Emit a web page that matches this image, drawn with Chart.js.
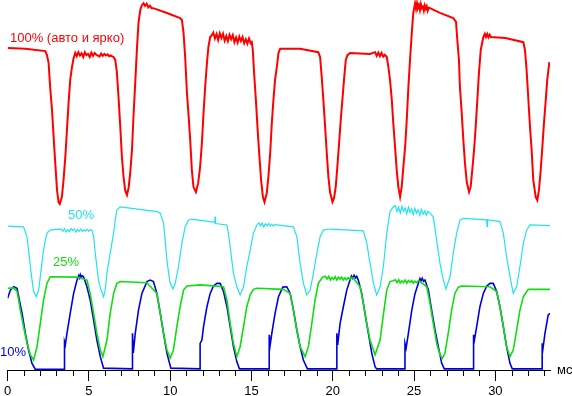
<!DOCTYPE html>
<html lang="ru">
<head>
    <meta charset="UTF-8">
    <title>Осциллограммы яркости</title>
    <script src="https://cdn.jsdelivr.net/npm/chart.js"></script>
    <style>
        body {
            margin: 0;
            background: #fff;
        }
    </style>
</head>
<body>
    <canvas id="scope" width="572" height="396"></canvas>

    <script>
        // время в мс, уровень в условных единицах (0..100)
        const redT = [0, 1.09, 2.32, 2.42, 2.52, 2.62, 2.73, 2.83, 2.93, 3.04, 3.13, 3.21, 3.34, 3.44, 3.55, 3.65, 3.75, 3.85, 3.96, 4.06,
            4.16, 4.25, 4.35, 4.45, 4.55, 4.65, 4.75, 4.85, 4.95, 5.05, 5.15, 5.25, 5.35, 5.45, 5.55, 5.65, 5.75, 5.85, 5.95, 6.05, 6.15, 6.25, 6.35, 6.45, 6.52,
            6.62, 6.72, 6.82, 6.93, 7.03, 7.13, 7.23, 7.34, 7.44, 7.54, 7.65, 7.74, 7.85, 7.95, 8.05, 8.16, 8.26, 8.36,
            8.45, 8.55, 8.65, 8.75, 8.85, 8.96, 9.80, 10.61, 10.72, 10.82, 10.92, 11.03, 11.12, 11.23, 11.33, 11.43, 11.58, 11.72, 11.84, 11.95, 12.05, 12.15, 12.26, 12.35, 12.46,
            12.56, 12.65, 12.75, 12.85, 12.95, 13.05, 13.15, 13.25, 13.35, 13.45, 13.55, 13.65, 13.75, 13.85, 13.95, 14.05, 14.15, 14.25, 14.35, 14.45, 14.55, 14.65, 14.75, 14.85, 14.95, 15.02,
            15.08, 15.16, 15.27, 15.39, 15.49, 15.59, 15.70, 15.80, 15.94, 16.04, 16.15, 16.25, 16.35, 16.45, 16.56, 16.66, 16.76,
            17.99, 19.11, 19.22, 19.32, 19.42, 19.53, 19.63, 19.73, 19.83, 19.98, 20.08, 20.18, 20.28, 20.39, 20.49, 20.59, 20.69, 20.80, 20.90, 21.06,
            22.29, 22.60, 22.70, 22.80, 22.90, 23.00, 23.10, 23.20,
            23.32, 23.42, 23.52, 23.63, 23.72, 23.83, 23.93, 24.03, 24.14, 24.24, 24.34, 24.45, 24.55, 24.65, 24.75, 24.86, 24.95,
            25.06, 25.12, 25.18, 25.24, 25.30, 25.36, 25.42, 25.48, 25.54, 25.60, 25.66, 25.72, 25.78, 25.84, 25.90, 25.98,
            26.59, 27.41, 27.58, 27.66, 27.76, 27.82, 27.93, 28.03, 28.13, 28.24, 28.38, 28.48, 28.58, 28.69, 28.79, 28.89, 28.99, 29.10, 29.26,
            29.35, 29.42, 29.50, 29.57, 29.65, 29.72,
            30.61, 31.72, 31.82, 31.92, 32.02, 32.13, 32.23, 32.33, 32.48, 32.58, 32.68, 32.79, 32.89, 32.99, 33.10, 33.19, 33.32];
        const redV = [87.0, 86.8, 86.2, 85.1, 83.0, 76.2, 70.3, 63.0, 55.9, 48.6, 45.4, 44.9, 46.8, 51.4, 57.6, 64.9, 72.2, 78.4, 81.9, 84.3,
            85.7, 84.8, 85.9, 85.0, 85.6, 84.6, 85.9, 85.1, 85.4, 84.6, 85.8, 84.9, 85.7, 85.2, 85.0, 84.7, 85.5, 84.9, 85.4, 85.0, 85.3, 84.8, 85.0, 84.7, 84.6,
            83.8, 80.5, 73.8, 65.7, 57.6, 52.2, 48.6, 47.3, 49.2, 53.2, 59.5, 68.4, 77.6, 86.5, 93.8, 97.3, 98.6, 99.1,
            98.4, 99.0, 98.0, 98.5, 97.8, 97.8, 96.5, 95.1, 94.6, 91.1, 84.6, 74.9, 69.5, 62.2, 54.1, 49.5, 48.1, 50.5, 54.9, 61.4, 69.5, 76.5, 83.0, 87.3, 90.0,
            90.5, 91.2, 89.6, 90.8, 89.2, 91.0, 89.7, 90.9, 89.0, 90.3, 88.9, 90.6, 89.4, 90.5, 88.6, 89.9, 88.5, 90.1, 88.9, 90.0, 88.3, 89.4, 88.2, 89.6, 88.3, 88.6,
            86.5, 80.3, 73.0, 64.1, 57.6, 51.4, 46.8, 45.4, 47.8, 52.2, 58.6, 66.8, 73.0, 78.4, 81.9, 85.7, 86.8,
            86.8, 85.9, 84.6, 79.2, 73.0, 65.7, 58.6, 52.2, 48.1, 45.4, 46.5, 49.5, 54.9, 61.4, 67.6, 73.0, 78.4, 83.8, 85.1, 85.7,
            85.4, 85.9, 84.9, 85.8, 84.8, 85.7, 84.7, 85.2,
            84.6, 81.9, 78.4, 73.0, 66.8, 60.3, 54.1, 49.5, 46.8, 49.5, 54.9, 60.3, 67.6, 76.5, 83.8, 91.1, 96.5,
            99.1, 97.6, 99.2, 97.9, 98.6, 97.3, 98.9, 97.8, 98.2, 97.1, 98.5, 97.6, 98.3, 97.1, 97.9, 97.8,
            96.5, 95.1, 94.1, 89.2, 83.8, 76.5, 69.5, 62.2, 55.9, 50.8, 48.1, 49.5, 54.1, 59.5, 65.7, 73.0, 80.3, 86.5, 90.0,
            90.9, 90.0, 90.8, 89.9, 90.6, 90.0,
            89.7, 88.6, 86.5, 81.1, 73.8, 65.7, 59.5, 51.4, 46.8, 45.9, 48.6, 54.1, 60.3, 66.8, 73.0, 78.4, 83.2];

        const cyanT = [0, 0.98, 1.19, 1.29, 1.40, 1.50, 1.60, 1.76, 1.91, 2.01, 2.11, 2.21, 2.32, 2.42, 2.62,
            3.0, 3.3, 3.4, 3.5, 3.6, 3.7, 3.8, 3.9, 4.0, 4.1, 4.2, 4.3, 4.4, 4.5, 4.6, 4.7, 4.8, 4.9, 5.0, 5.1, 5.19,
            5.29, 5.39, 5.49, 5.59, 5.70, 5.90, 6.00, 6.11, 6.31, 6.52, 6.62, 6.72, 6.93, 9.18, 9.39,
            9.59, 9.69, 9.80, 9.90, 10.00, 10.17, 10.31, 10.51, 10.72, 10.92, 11.12, 11.33, 12.74, 12.76, 12.79, 13.49,
            13.58, 13.69, 13.79, 13.89, 14.10, 14.30, 14.51, 14.71, 14.92, 15.12,
            15.33, 15.45, 15.55, 15.65, 15.75, 15.85, 15.95, 16.05, 16.15, 16.25, 16.35, 16.45, 16.56, 17.58,
            17.79, 17.89, 17.99, 18.19, 18.40, 18.61, 18.81, 19.02, 19.22, 19.42, 19.83, 21.88,
            22.09, 22.29, 22.50, 22.70, 22.91, 23.11, 23.32, 23.52,
            23.72, 23.85, 23.95, 24.05, 24.15, 24.25, 24.35, 24.45, 24.55, 24.65, 24.75, 24.85, 24.95, 25.05, 25.15, 25.25, 25.35, 25.45, 25.55, 25.65, 25.75, 25.85, 25.98, 26.18,
            26.39, 26.59, 26.80, 26.96, 27.21, 27.41, 27.62, 27.82, 28.03, 29.46, 29.49, 29.52, 30.28,
            30.49, 30.69, 30.90, 31.10, 31.31, 31.51, 31.72, 31.92, 32.13, 33.36];
        const cyanV = [38.9, 38.7, 36.0, 32.4, 27.9, 24.3, 21.2, 19.8, 21.6, 25.2, 28.9, 32.4, 35.1, 37.0, 37.8,
            38.0, 38.1, 37.5, 38.2, 37.3, 37.9, 37.4, 38.2, 37.7, 38.1, 37.3, 38.0, 37.5, 38.1, 37.4, 37.9, 37.6, 38.0, 37.5, 37.9, 37.8,
            36.0, 31.6, 27.9, 24.3, 22.2, 19.8, 21.6, 26.2, 31.6, 37.0, 40.5, 43.2, 44.1, 42.8, 42.4,
            39.7, 35.1, 29.7, 26.2, 23.5, 21.9, 23.5, 27.9, 34.3, 38.7, 40.5, 40.8, 39.9, 41.5, 39.6, 39.2,
            37.0, 33.3, 29.7, 26.2, 22.5, 20.3, 22.5, 27.9, 32.4, 37.0,
            39.2, 39.8, 38.9, 39.7, 38.7, 39.5, 39.0, 39.6, 38.9, 39.4, 38.9, 39.4, 39.2, 38.7,
            36.0, 32.4, 28.9, 23.5, 20.3, 21.6, 26.2, 31.6, 36.0, 37.8, 38.1, 37.6,
            34.3, 28.9, 23.5, 20.3, 22.5, 27.9, 37.0, 42.8,
            44.1, 44.4, 42.8, 44.0, 42.4, 44.2, 42.9, 43.8, 42.2, 44.0, 42.6, 43.6, 42.0, 43.7, 42.4, 43.3, 41.8, 43.4, 42.1, 43.0, 41.8, 42.9, 42.4, 41.4,
            35.1, 28.9, 24.3, 21.9, 25.2, 31.6, 37.0, 40.5, 41.0, 40.6, 38.8, 40.6, 40.1,
            37.0, 30.6, 25.2, 20.7, 22.5, 27.9, 34.3, 37.8, 39.2, 39.0];

        const greenT = [0, 0.37, 0.58, 0.68, 0.78, 0.98, 1.19, 1.40, 1.60, 1.81, 2.01, 2.21, 2.42, 2.62, 4.27, 4.88,
            5.08, 5.29, 5.49, 5.70, 5.86, 6.11, 6.31, 6.52, 6.72, 6.93, 8.57,
            9.18, 9.39, 9.59, 9.80, 10.00, 10.20, 10.41, 10.61, 10.82, 11.03, 11.84, 13.28,
            13.49, 13.69, 13.89, 14.10, 14.30, 14.51, 14.71, 14.92, 15.12, 15.33, 16.96,
            17.37, 17.58, 17.79, 17.99, 18.30, 18.50, 18.71, 18.91, 19.11, 19.32,
            19.42, 19.55, 19.65, 19.75, 19.85, 19.95, 20.05, 20.15, 20.25, 20.35, 20.45, 20.55, 20.65, 20.75, 20.85, 20.95, 21.05, 21.15, 21.27,
            21.68, 21.88, 22.09, 22.29, 22.60, 22.91, 23.11, 23.32, 23.52,
            23.72, 23.85, 23.95, 24.05, 24.15, 24.25, 24.35, 24.45, 24.55, 24.65, 24.75, 24.85, 24.95, 25.05, 25.15, 25.25, 25.37,
            25.78, 25.98, 26.18, 26.39, 26.59, 26.74, 26.90, 27.10, 27.31, 27.51, 27.72, 27.93, 29.67,
            30.08, 30.28, 30.49, 30.69, 30.90, 31.10, 31.31, 31.51, 31.72, 32.02, 33.36];
        const greenV = [22.1, 22.2, 21.2, 18.9, 16.2, 11.7, 7.3, 4.1, 2.7, 6.3, 12.6, 18.9, 23.4, 25.2, 25.1, 24.3,
            20.7, 15.3, 9.9, 5.4, 3.6, 8.1, 15.3, 20.7, 23.4, 23.9, 23.6,
            20.7, 15.3, 9.9, 5.4, 3.2, 5.4, 11.7, 17.1, 21.6, 22.7, 23.0, 22.5,
            18.9, 12.6, 7.2, 3.6, 6.3, 11.7, 17.1, 20.3, 21.8, 22.1, 21.8,
            20.7, 16.2, 10.8, 6.3, 3.6, 6.3, 12.6, 18.9, 23.4, 24.8,
            25.2, 25.3, 24.6, 25.3, 24.3, 25.0, 24.5, 25.2, 24.3, 25.1, 24.6, 25.1, 24.3, 24.9, 24.4, 25.0, 24.5, 25.0, 24.8,
            22.5, 18.0, 12.6, 8.1, 4.1, 8.1, 14.9, 21.6, 23.9,
            24.1, 24.4, 23.6, 24.4, 23.5, 24.1, 23.6, 24.3, 23.5, 24.2, 23.7, 24.2, 23.5, 24.0, 23.6, 24.1, 23.9,
            22.5, 18.0, 12.6, 7.2, 4.1, 3.2, 4.5, 9.9, 16.2, 20.7, 22.4, 22.7, 22.5,
            21.2, 17.1, 11.7, 6.3, 3.6, 5.4, 10.8, 16.2, 19.8, 21.8, 21.8];

        const blueT = [0, 0.17, 0.37, 0.58, 0.68, 0.89, 1.09, 1.29, 1.50, 1.70, 3.50,
            3.50, 3.55, 3.65, 3.85, 4.06, 4.27, 4.37, 4.42, 4.47, 4.52, 4.58, 4.67, 4.88, 5.08, 5.29, 5.49, 5.70, 5.90, 7.68,
            7.68, 7.73, 7.85, 8.05, 8.26, 8.57, 8.77, 8.97, 9.18, 9.39, 9.59, 9.80, 10.04, 11.84,
            11.84, 11.95, 12.05, 12.26, 12.46, 12.66, 12.87, 13.07, 13.28, 13.49, 13.69, 13.89, 14.10, 14.26, 16.09,
            16.09, 16.15, 16.25, 16.45, 16.66, 16.93, 17.17, 17.38, 17.58, 17.79, 17.99, 18.19, 18.44, 20.25,
            20.25, 20.30, 20.45, 20.65, 20.86, 21.06, 21.15, 21.22, 21.31, 21.40, 21.47, 21.57, 21.78, 21.98, 22.19, 22.40, 22.60, 22.70, 24.44,
            24.44, 24.51, 24.65, 24.86, 25.06, 25.26, 25.36, 25.42, 25.50, 25.58, 25.67, 25.88, 26.08, 26.29, 26.49, 26.70, 26.86, 28.64,
            28.64, 28.68, 28.85, 29.05, 29.26, 29.47, 29.67, 29.87, 30.08, 30.28, 30.49, 30.69, 30.90, 31.04, 32.88,
            32.88, 32.93, 33.05, 33.25, 33.36];
        const blueV = [19.4, 21.6, 22.5, 22.1, 19.8, 15.3, 9.9, 5.4, 1.8, 0.2, 0.2,
            7.6, 6.8, 9.9, 15.3, 20.7, 24.3, 25.5, 24.9, 25.7, 25.0, 25.5, 25.2, 22.5, 18.9, 13.5, 8.1, 3.6, 0.5, 0.3,
            9.9, 4.6, 9.9, 16.2, 20.7, 23.9, 24.3, 23.9, 20.7, 15.3, 9.9, 4.5, 0.5, 0.3,
            7.2, 8.1, 11.7, 17.1, 20.7, 22.7, 23.4, 23.4, 21.2, 17.1, 11.7, 6.3, 2.2, 0.3, 0.3,
            9.5, 6.8, 9.9, 15.3, 19.8, 22.4, 22.5, 20.7, 16.2, 10.8, 6.3, 2.7, 0.3, 0.3,
            9.9, 6.8, 12.6, 17.1, 21.6, 24.3, 25.4, 24.8, 25.6, 24.9, 25.3, 24.3, 20.7, 15.3, 9.9, 4.5, 0.9, 0.3, 0.3,
            7.2, 5.9, 9.9, 16.2, 20.7, 23.4, 24.7, 24.0, 24.8, 24.0, 24.3, 21.6, 16.2, 10.8, 6.3, 1.8, 0.3, 0.3,
            9.5, 6.8, 11.7, 17.1, 20.7, 22.7, 23.4, 23.4, 21.2, 17.1, 11.7, 6.3, 1.8, 0.3, 0.3,
            7.2, 5.9, 9.9, 14.9, 15.3];

        const seriesNames = ['100% (авто и ярко)', '50%', '25%', '10%'];
        const seriesColors = ['#ff0000', '#22e2ee', '#11dd11', '#0000dd'];
        const unitLabel = 'мс';
        const majorStep = 5;

        function toPoints(ts, vs) {
            return ts.map((t, i) => ({ x: t, y: vs[i] }));
        }

        // подписи кривых, мелкие деления и единицы оси
        const labelPlugin = {
            id: 'labels',
            afterDraw(chart) {
                const ctx = chart.ctx;
                const x = chart.scales.x;
                ctx.save();

                ctx.strokeStyle = '#000';
                ctx.lineWidth = 1;
                ctx.beginPath();
                x.ticks.forEach(t => {
                    if (t.value % majorStep === 0) return;
                    const px = Math.round(x.getPixelForValue(t.value)) + 0.5;
                    ctx.moveTo(px, x.top);
                    ctx.lineTo(px, x.top + 6);
                });
                ctx.stroke();

                ctx.font = '13px "Liberation Sans", Arial, sans-serif';
                ctx.textBaseline = 'middle';
                ctx.textAlign = 'left';
                const pos = [[10, 38], [68, 215], [53, 262], [0, 352]];
                seriesNames.forEach((name, i) => {
                    ctx.fillStyle = seriesColors[i];
                    ctx.fillText(name, pos[i][0], pos[i][1]);
                });
                ctx.fillStyle = '#000';
                ctx.fillText(unitLabel, x.right + 7, x.top);
                ctx.restore();
            }
        };

        new Chart(document.getElementById('scope').getContext('2d'), {
            type: 'scatter',
            data: {
                datasets: [
                    { data: toPoints(redT, redV), borderColor: seriesColors[0], borderWidth: 2 },
                    { data: toPoints(cyanT, cyanV), borderColor: seriesColors[1], borderWidth: 1.2 },
                    { data: toPoints(greenT, greenV), borderColor: seriesColors[2], borderWidth: 1.6 },
                    { data: toPoints(blueT, blueV), borderColor: seriesColors[3], borderWidth: 1.6 }
                ].map(d => Object.assign(d, { showLine: true, pointRadius: 0, tension: 0, fill: false }))
            },
            options: {
                responsive: false,
                animation: false,
                devicePixelRatio: 1,
                layout: { padding: { left: 7, right: 22, top: 0, bottom: -6 } },
                plugins: {
                    legend: { display: false },
                    tooltip: { enabled: false }
                },
                scales: {
                    x: {
                        type: 'linear',
                        min: 0,
                        max: 33.36,
                        border: { display: true, color: '#000', width: 1 },
                        grid: {
                            drawOnChartArea: false,
                            tickLength: 11,
                            tickColor: c => (c.tick && c.tick.value % majorStep === 0) ? '#000' : 'rgba(0,0,0,0)'
                        },
                        ticks: {
                            stepSize: 1,
                            includeBounds: false,
                            autoSkip: false,
                            maxRotation: 0,
                            padding: 4,
                            color: '#000',
                            font: { family: '"Liberation Sans", Arial, sans-serif', size: 13, lineHeight: 1 },
                            callback: v => (v % majorStep === 0 ? v : '')
                        }
                    },
                    y: {
                        display: false,
                        min: 0,
                        max: 100
                    }
                }
            },
            plugins: [labelPlugin]
        });
    </script>
</body>
</html>
